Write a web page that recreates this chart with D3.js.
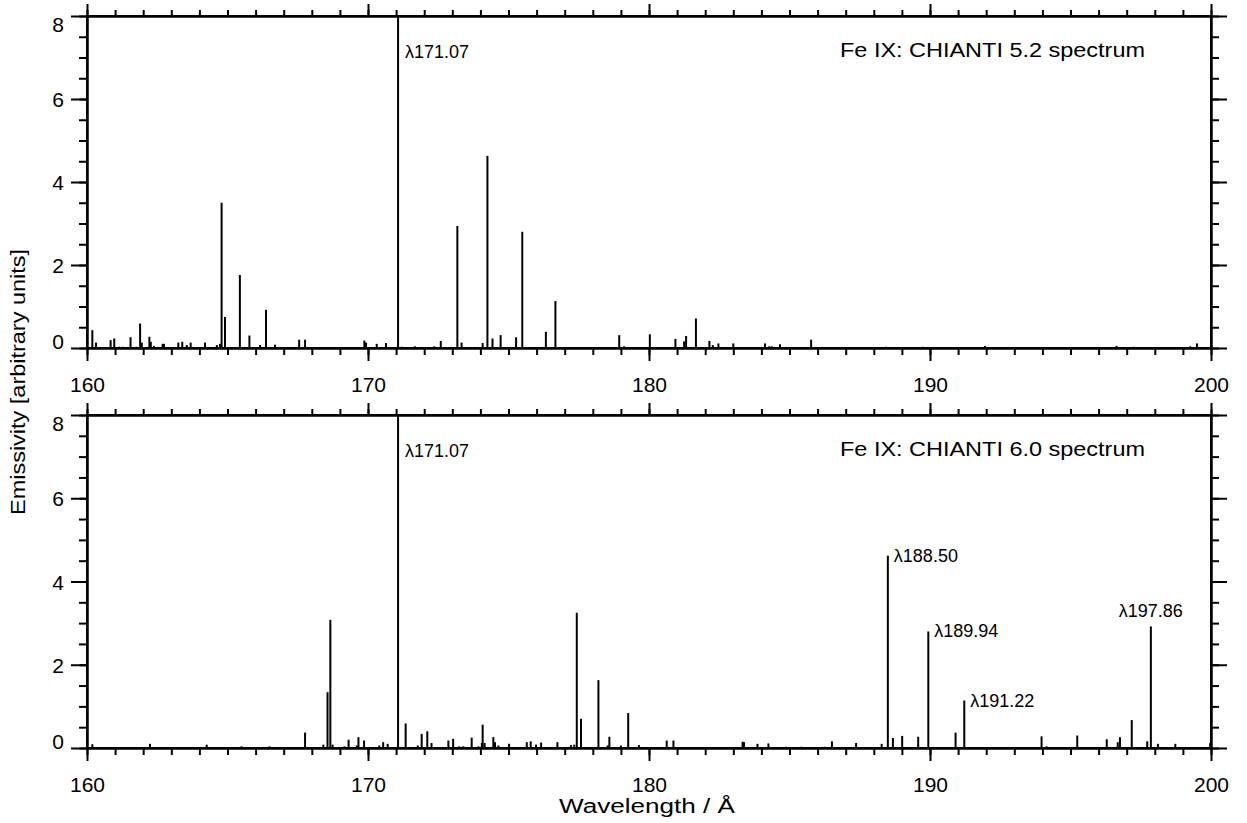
<!DOCTYPE html>
<html>
<head>
<meta charset="utf-8">
<script src="https://cdn.jsdelivr.net/npm/d3@7"></script>
<style>
    body { margin: 0; background: #fff; }
    svg { display: block; font-family: "Liberation Sans", Arial, Helvetica, sans-serif; }
    .axis path, .axis line { stroke: #000; stroke-width: 2; }
</style>
</head>
<body>
<div id="chart"></div>
<script>
// Fe IX, CHIANTI 5.2 line list (wavelength in Å, emissivity)
const wave52 = [160.19, 160.32, 160.84, 160.97, 161.14, 161.27, 161.55, 161.77, 161.89, 161.95,
    162.22, 162.27, 162.38, 162.69, 162.74, 163.25, 163.39, 163.55, 163.69, 164.20,
    164.62, 164.73, 164.79, 164.91, 165.44, 165.78, 166.16, 166.37, 166.69, 167.55,
    167.76, 168.53, 169.87, 169.93, 170.31, 170.64, 170.94, 171.07, 171.20, 171.67,
    172.36, 172.59, 173.18, 173.33, 174.08, 174.25, 174.43, 174.72, 175.27, 175.49,
    176.33, 176.67, 177.78, 178.20, 178.94, 179.11, 180.03, 180.94, 181.25, 181.32,
    181.67, 182.15, 182.27, 182.47, 183.00, 183.27, 184.13, 184.28, 184.37, 184.66,
    185.60, 185.77, 188.43, 189.74, 191.96, 196.64, 197.24, 199.26, 199.50];
const emis52 = [0.43, 0.13, 0.19, 0.23, 0.03, 0.03, 0.26, 0.03, 0.59, 0.13,
    0.27, 0.15, 0.05, 0.10, 0.10, 0.13, 0.15, 0.07, 0.13, 0.13,
    0.07, 0.10, 3.50, 0.75, 1.76, 0.30, 0.07, 0.92, 0.08, 0.20,
    0.20, 0.02, 0.18, 0.13, 0.10, 0.12, 0.02, 8.00, 0.03, 0.04,
    0.04, 0.17, 2.94, 0.13, 0.12, 4.63, 0.23, 0.31, 0.26, 2.80,
    0.39, 1.13, 0.01, 0.02, 0.31, 0.04, 0.33, 0.22, 0.16, 0.29,
    0.71, 0.17, 0.07, 0.11, 0.11, 0.02, 0.11, 0.04, 0.04, 0.09,
    0.02, 0.20, 0.03, 0.03, 0.05, 0.05, 0.03, 0.04, 0.11];

// Fe IX, CHIANTI 6.0 line list
const wave60 = [160.19, 162.24, 164.26, 165.50, 166.49, 167.58, 167.76, 168.41, 168.56, 168.66,
    168.74, 169.16, 169.31, 169.60, 169.66, 169.86, 170.40, 170.54, 170.70, 171.07,
    171.34, 171.77, 171.91, 172.11, 172.26, 172.86, 173.03, 173.25, 173.39, 173.69,
    173.93, 174.05, 174.08, 174.15, 174.46, 174.52, 174.64, 175.02, 175.65, 175.79,
    175.98, 176.16, 176.74, 177.22, 177.34, 177.43, 177.58, 178.20, 178.53, 178.59,
    179.00, 179.26, 179.64, 180.63, 180.87, 181.79, 183.33, 183.38, 183.86, 184.25,
    184.88, 185.43, 186.26, 186.51, 187.37, 188.28, 188.50, 188.68, 189.01, 189.58,
    189.94, 190.91, 191.22, 193.02, 193.97, 194.15, 195.24, 196.29, 196.68, 196.76,
    197.18, 197.73, 197.86, 198.11, 198.73, 199.97];
const emis60 = [0.09, 0.10, 0.08, 0.04, 0.04, 0.02, 0.37, 0.08, 1.34, 3.08,
    0.08, 0.04, 0.20, 0.06, 0.26, 0.18, 0.06, 0.14, 0.10, 8.00,
    0.59, 0.06, 0.34, 0.40, 0.12, 0.18, 0.22, 0.04, 0.04, 0.25,
    0.04, 0.12, 0.56, 0.12, 0.26, 0.14, 0.06, 0.10, 0.14, 0.16,
    0.08, 0.13, 0.14, 0.07, 0.08, 3.25, 0.70, 1.63, 0.06, 0.27,
    0.06, 0.84, 0.07, 0.18, 0.18, 0.02, 0.15, 0.14, 0.10, 0.11,
    0.03, 0.03, 0.03, 0.16, 0.12, 0.10, 4.62, 0.24, 0.29, 0.27,
    2.80, 0.37, 1.14, 0.02, 0.28, 0.04, 0.30, 0.21, 0.14, 0.26,
    0.67, 0.16, 2.92, 0.10, 0.10, 0.12];

const titles = ["Fe IX: CHIANTI 5.2 spectrum", "Fe IX: CHIANTI 6.0 spectrum"];
const labelWaves52 = [171.07];
const labelWaves60 = [171.07, 188.50, 189.94, 191.22, 197.86];

const xMajor = [160, 170, 180, 190, 200];
const yMajor = [0, 2, 4, 6, 8];
const xDomain = [160, 200];
const yDomain = [0, 8];

const width = 1247;
const height = 823;
const left = 87, right = 1211;
const panels = [
    { top: 16, bottom: 348, wave: wave52, emis: emis52, labels: labelWaves52, title: titles[0] },
    { top: 415, bottom: 748, wave: wave60, emis: emis60, labels: labelWaves60, title: titles[1] }
];

const svg = d3.select("#chart")
    .append("svg")
    .attr("width", width)
    .attr("height", height);

const xScale = d3.scaleLinear().domain(xDomain).range([left, right]);

function drawPanel(p) {
    const yScale = d3.scaleLinear().domain(yDomain).range([p.bottom, p.top]).clamp(true);
    const g = svg.append("g");

    // spectral lines as sticks
    const lines = d3.zip(p.wave, p.emis);
    g.append("g")
        .selectAll("line")
        .data(lines)
        .join("line")
        .attr("x1", d => xScale(d[0]))
        .attr("x2", d => xScale(d[0]))
        .attr("y1", yScale(0))
        .attr("y2", d => yScale(d[1]))
        .attr("stroke", "#000")
        .attr("stroke-width", 2);

    // minor ticks
    const xMinor = d3.range(160, 201, 1);
    const yMinor = d3.range(0, 8.01, 0.5);
    g.append("g").attr("class", "axis").attr("transform", `translate(0,${p.bottom})`)
        .call(d3.axisBottom(xScale).tickValues(xMinor).tickSize(7).tickSizeOuter(0).tickFormat(""));
    g.append("g").attr("class", "axis").attr("transform", `translate(0,${p.top})`)
        .call(d3.axisTop(xScale).tickValues(xMinor).tickSize(6).tickSizeOuter(0).tickFormat(""));
    g.append("g").attr("class", "axis").attr("transform", `translate(${left},0)`)
        .call(d3.axisLeft(yScale).tickValues(yMinor).tickSize(8).tickSizeOuter(0).tickFormat(""));
    g.append("g").attr("class", "axis").attr("transform", `translate(${right},0)`)
        .call(d3.axisRight(yScale).tickValues(yMinor).tickSize(8).tickSizeOuter(0).tickFormat(""));

    // major ticks
    const xb = g.append("g").attr("class", "axis").attr("transform", `translate(0,${p.bottom})`)
        .call(d3.axisBottom(xScale).tickValues(xMajor).tickSize(13).tickSizeOuter(0).tickFormat(d3.format("d")));
    xb.selectAll("text")
        .attr("y", 44)
        .attr("dy", 0)
        .style("font-size", "21px")
        .attr("fill", "#000");
    g.append("g").attr("class", "axis").attr("transform", `translate(0,${p.top})`)
        .call(d3.axisTop(xScale).tickValues(xMajor).tickSize(12).tickSizeOuter(0).tickFormat(""));
    const yl = g.append("g").attr("class", "axis").attr("transform", `translate(${left},0)`)
        .call(d3.axisLeft(yScale).tickValues(yMajor).tickSize(16).tickPadding(7).tickSizeOuter(0).tickFormat(d3.format("d")));
    yl.selectAll("text")
        .style("font-size", "21px")
        .attr("fill", "#000")
        .attr("dy", d => d === 8 ? "0.72em" : d === 0 ? "0em" : "0.36em");
    g.append("g").attr("class", "axis").attr("transform", `translate(${right},0)`)
        .call(d3.axisRight(yScale).tickValues(yMajor).tickSize(16).tickSizeOuter(0).tickFormat(""));

    // frame
    g.append("rect")
        .attr("x", left)
        .attr("y", p.top)
        .attr("width", right - left)
        .attr("height", p.bottom - p.top)
        .attr("fill", "none")
        .attr("stroke", "#000")
        .attr("stroke-width", 2);

    // panel title
    g.append("text")
        .attr("x", 1145)
        .attr("y", p.top + 41)
        .attr("text-anchor", "end")
        .attr("textLength", 305)
        .attr("lengthAdjust", "spacingAndGlyphs")
        .style("font-size", "19.5px")
        .text(p.title);

    // line labels
    p.labels.forEach(w => {
        const i = p.wave.indexOf(w);
        const v = p.emis[i];
        const t = g.append("text")
            .style("font-size", "18px")
            .text("\u03bb" + w.toFixed(2));
        if (v >= 8) {
            t.attr("x", xScale(w) + 7).attr("y", yScale(v) + 42);
        } else if (w > 197) {
            t.attr("x", xScale(w)).attr("y", yScale(v) - 9).attr("text-anchor", "middle");
        } else {
            t.attr("x", xScale(w) + 6).attr("y", yScale(v) + 6);
        }
    });
}

panels.forEach(drawPanel);

// axis titles
svg.append("text")
    .attr("transform", `translate(25,382) rotate(-90)`)
    .attr("text-anchor", "middle")
    .attr("textLength", 266)
    .attr("lengthAdjust", "spacingAndGlyphs")
    .style("font-size", "19.5px")
    .text("Emissivity [arbitrary units]");

svg.append("text")
    .attr("x", 647)
    .attr("y", 813)
    .attr("text-anchor", "middle")
    .attr("textLength", 176)
    .attr("lengthAdjust", "spacingAndGlyphs")
    .style("font-size", "19.5px")
    .text("Wavelength / \u00c5");
</script>
</body>
</html>
